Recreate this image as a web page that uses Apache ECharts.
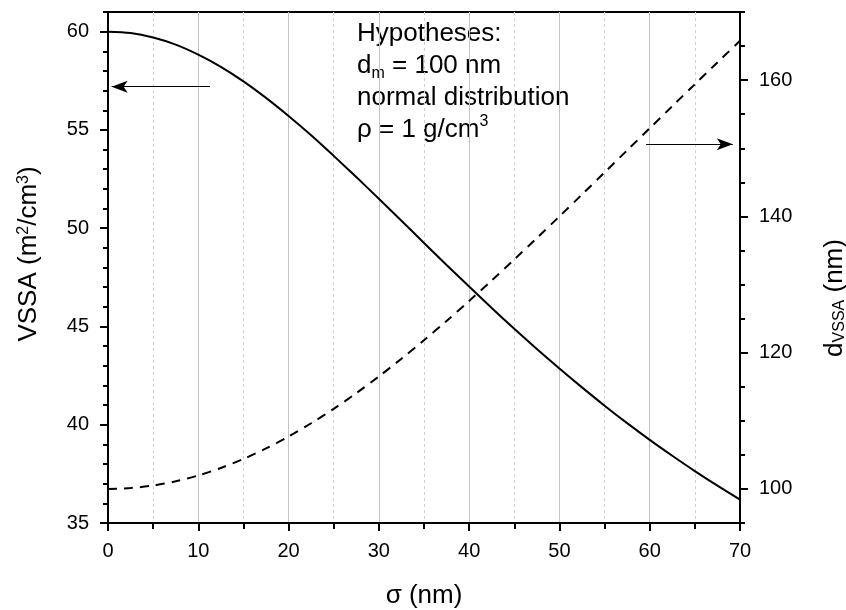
<!DOCTYPE html>
<html><head><meta charset="utf-8">
<script src="https://cdn.jsdelivr.net/npm/echarts@6/dist/echarts.min.js"></script>
<style>html,body{margin:0;padding:0;background:#fff}#c{width:846px;height:610px}</style>
</head><body><div id="c"></div>
<script>
// sigma (nm)
const sigma = [0,2.5,5,7.5,10,12.5,15,17.5,20,22.5,25,27.5,30,32.5,35,37.5,40,42.5,45,47.5,50,52.5,55,57.5,60,62.5,65,67.5,70];
// VSSA (m2/cm3), left axis
const vssa = [60.0,59.93,59.70,59.34,58.83,58.21,57.47,56.63,55.71,54.73,53.68,52.60,51.50,50.38,49.25,48.13,47.03,45.94,44.88,43.85,42.86,41.90,40.97,40.08,39.23,38.42,37.64,36.90,36.19];
// d_VSSA (nm), right axis
const dvssa = [100.0,100.13,100.5,101.12,101.98,103.08,104.40,105.94,107.69,109.64,111.76,114.06,116.51,119.11,121.83,124.66,127.59,130.60,133.68,136.82,140.0,143.21,146.45,149.70,152.94,156.18,159.40,162.60,165.77];
const leftMajor = [35,40,45,50,55,60];
const leftMinor = [36,37,38,39,41,42,43,44,46,47,48,49,51,52,53,54,56,57,58,59,61];
const rightMajor = [100,120,140,160];
const rightMinor = [95,105,110,115,125,130,135,145,150,155,165,170];
const hypotheses = ['Hypotheses:', 'd{sub|m} = 100 nm', 'normal distribution', 'ρ = 1 g/cm{sup|3}'];

const FONT = 'Liberation Sans, Arial, sans-serif';
const chart = echarts.init(document.getElementById('c'), null, {renderer:'canvas'});
const axisLine = {show:true, lineStyle:{color:'#000', width:2}};
function yAx(min,max,pos,major,minor,showLabel,tickLen){
  return {type:'value', min:min, max:max, position:pos,
    axisLine: axisLine,
    axisTick:{show:true, inside:false, length:tickLen, lineStyle:{color:'#000',width:2}, customValues: showLabel?major:minor},
    axisLabel:{show:showLabel, customValues: major, color:'#000', fontSize:20, fontFamily:FONT, margin:19},
    splitLine:{show:false}, minorTick:{show:false}, minorSplitLine:{show:false}};
}
const option = {
  animation:false,
  grid:{left:108, right:106, top:12, bottom:87, show:true, borderColor:'#000', borderWidth:2, backgroundColor:'transparent'},
  xAxis:{type:'value', min:0, max:70, interval:10,
    axisLine: axisLine,
    axisTick:{show:true, inside:false, length:8, lineStyle:{color:'#000', width:2}},
    minorTick:{show:true, splitNumber:2, length:6, lineStyle:{color:'#000', width:2}},
    axisLabel:{color:'#000', fontSize:20, fontFamily:FONT, margin:18},
    splitLine:{show:true, lineStyle:{color:'#c4c4c4', width:1}},
    minorSplitLine:{show:true, lineStyle:{color:'#d0d0d0', width:1, type:[3,3]}}
  },
  yAxis:[
    yAx(35,61,'left',leftMajor,leftMinor,true,8),
    yAx(95,170,'right',rightMajor,rightMinor,true,8),
    yAx(35,61,'left',leftMajor,leftMinor,false,5),
    yAx(95,170,'right',rightMajor,rightMinor,false,5)
  ],
  series:[
    {type:'line', name:'VSSA', yAxisIndex:0, smooth:0.3, symbol:'none',
      data: sigma.map((s,i)=>[s,vssa[i]]),
      lineStyle:{color:'#000', width:2},
      markLine:{silent:true, symbol:['none','arrow'], symbolSize:[9,16], label:{show:false},
        lineStyle:{color:'#000', width:1.2, type:'solid'},
        data:[[{coord:[11.3,57.2]},{coord:[0.4,57.2]}]]}
    },
    {type:'line', name:'dVSSA', yAxisIndex:1, smooth:0.3, symbol:'none',
      data: sigma.map((s,i)=>[s,dvssa[i]]),
      lineStyle:{color:'#000', width:2, type:[9,7]},
      markLine:{silent:true, symbol:['none','arrow'], symbolSize:[9,16], label:{show:false},
        lineStyle:{color:'#000', width:1.2, type:'solid'},
        data:[[{coord:[59.6,150.6]},{coord:[69.2,150.6]}]]}
    }
  ],
  graphic:[
    {type:'text', x:29, y:254, rotation:Math.PI/2,
      style:{text:'VSSA (m{sup|2}/cm{sup|3})', fill:'#000', font:'26px '+FONT, align:'center', verticalAlign:'middle',
        rich:{sup:{fontSize:16, fontFamily:FONT, verticalAlign:'top', lineHeight:16}}}},
    {type:'text', x:835, y:298, rotation:Math.PI/2,
      style:{text:'d{sub|VSSA} (nm)', fill:'#000', font:'26px '+FONT, align:'center', verticalAlign:'middle',
        rich:{sub:{fontSize:16, fontFamily:FONT, verticalAlign:'bottom', lineHeight:16}}}},
    {type:'text', x:424, y:596,
      style:{text:'σ (nm)', fill:'#000', font:'26px '+FONT, align:'center', verticalAlign:'middle'}},
    {type:'text', x:357, y:18,
      style:{text:hypotheses.join('\n'), fill:'#000', font:'26px '+FONT, align:'left', verticalAlign:'top', lineHeight:32,
        rich:{sub:{fontSize:16, fontFamily:FONT, verticalAlign:'bottom', lineHeight:16},
              sup:{fontSize:16, fontFamily:FONT, verticalAlign:'top', lineHeight:16}}}}
  ]
};
chart.setOption(option);
</script></body></html>
